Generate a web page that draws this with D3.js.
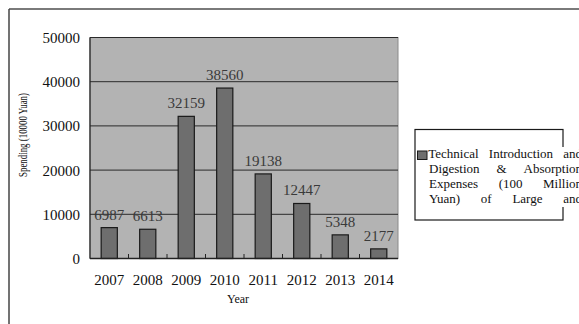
<!DOCTYPE html>
<html>
<head>
<meta charset="utf-8">
<script src="https://cdn.jsdelivr.net/npm/d3@7"></script>
<style>
  html, body { margin: 0; padding: 0; background: #fff; }
  svg { display: block; }
  text { font-family: "Liberation Serif", "Times New Roman", serif; }
</style>
</head>
<body>
<svg id="chart" width="579" height="324"></svg>
<script>
// Annual technical introduction and digestion/absorption spending
const years = ["2007", "2008", "2009", "2010", "2011", "2012", "2013", "2014"];
const spending = [6987, 6613, 32159, 38560, 19138, 12447, 5348, 2177];
const yTicks = [0, 10000, 20000, 30000, 40000, 50000];
const legendLines = [
  "Technical Introduction and",
  "Digestion & Absorption",
  "Expenses (100 Million",
  "Yuan) of Large and"
];
const yTitle = "Spending (10000 Yuan)";
const xTitle = "Year";

const svg = d3.select("#chart");
const W = 579, H = 324;
const plot = { left: 90, right: 398, top: 37.5, bottom: 258.5 };

// Outer frame (top and left edges)
svg.append("line").attr("x1", 9).attr("x2", W).attr("y1", 9).attr("y2", 9)
  .attr("stroke", "#7a7a7a").attr("stroke-width", 2);
svg.append("line").attr("x1", 9).attr("x2", 9).attr("y1", 9).attr("y2", H)
  .attr("stroke", "#444").attr("stroke-width", 1.5);

const x = d3.scaleBand().domain(years).range([plot.left, plot.right])
  .paddingInner(0.58).paddingOuter(0.29);
const y = d3.scaleLinear().domain([0, 50000]).range([plot.bottom, plot.top]);

// Plot background
svg.append("rect")
  .attr("x", plot.left).attr("y", plot.top)
  .attr("width", plot.right - plot.left).attr("height", plot.bottom - plot.top)
  .attr("fill", "#b3b3b3").attr("stroke", "#8a8a8a").attr("stroke-width", 1);

// Gridlines
svg.append("g").selectAll("line").data(yTicks.filter(t => t > 0)).join("line")
  .attr("x1", plot.left).attr("x2", plot.right)
  .attr("y1", d => y(d)).attr("y2", d => y(d))
  .attr("stroke", "#2a2a2a").attr("stroke-width", 1);

// Y tick labels
svg.append("g").selectAll("text").data(yTicks).join("text")
  .attr("x", 80).attr("y", d => y(d) + 5.5)
  .attr("text-anchor", "end").attr("font-size", 15).attr("fill", "#111")
  .text(d => d);

// Bars
svg.append("g").selectAll("rect").data(years).join("rect")
  .attr("x", (d) => x(d))
  .attr("y", (d, i) => y(spending[i]))
  .attr("width", x.bandwidth())
  .attr("height", (d, i) => y(0) - y(spending[i]))
  .attr("fill", "#6e6e6e").attr("stroke", "#1a1a1a").attr("stroke-width", 1.2);

// Value labels
svg.append("g").selectAll("text").data(years).join("text")
  .attr("x", d => x(d) + x.bandwidth() / 2)
  .attr("y", (d, i) => y(spending[i]) - 8)
  .attr("text-anchor", "middle").attr("font-size", 15).attr("fill", "#3a3a3a")
  .text((d, i) => spending[i]);

// Axis lines
svg.append("line").attr("x1", plot.left).attr("x2", plot.left)
  .attr("y1", plot.top).attr("y2", plot.bottom)
  .attr("stroke", "#222").attr("stroke-width", 1.2);
svg.append("line").attr("x1", plot.left).attr("x2", plot.right)
  .attr("y1", plot.bottom).attr("y2", plot.bottom)
  .attr("stroke", "#222").attr("stroke-width", 1.5);

// Category separator ticks (pointing inward)
const step = x.step();
svg.append("g").selectAll("line").data(years.slice(1)).join("line")
  .attr("x1", d => x(d) - step * x.paddingInner() / 2)
  .attr("x2", d => x(d) - step * x.paddingInner() / 2)
  .attr("y1", plot.bottom - 4.5).attr("y2", plot.bottom)
  .attr("stroke", "#222").attr("stroke-width", 1);

// X tick labels
svg.append("g").selectAll("text").data(years).join("text")
  .attr("x", d => x(d) + x.bandwidth() / 2)
  .attr("y", 285)
  .attr("text-anchor", "middle").attr("font-size", 15).attr("fill", "#111")
  .text(d => d);

// Axis titles
svg.append("text")
  .attr("x", 238).attr("y", 302.5)
  .attr("text-anchor", "middle").attr("font-size", 12).attr("fill", "#111")
  .text(xTitle);
svg.append("text")
  .attr("transform", "translate(26.5,135) rotate(-90)")
  .attr("text-anchor", "middle").attr("font-size", 12.5).attr("fill", "#111")
  .attr("textLength", 84).attr("lengthAdjust", "spacingAndGlyphs")
  .text(yTitle);

// Legend
const lg = svg.append("g");
lg.append("rect").attr("x", 415).attr("y", 129.5).attr("width", 148).attr("height", 90.5)
  .attr("fill", "#fff").attr("stroke", "#1a1a1a").attr("stroke-width", 1.2);
lg.append("rect").attr("x", 428).attr("y", 147).attr("width", 151).attr("height", 60)
  .attr("fill", "#fff");
lg.append("rect").attr("x", 417.5).attr("y", 151).attr("width", 9.5).attr("height", 8.5)
  .attr("fill", "#6e6e6e").attr("stroke", "#1a1a1a").attr("stroke-width", 1);

// Justified legend text lines (the block runs slightly past the right edge)
const textRight = 582;
legendLines.forEach((line, li) => {
  const words = line.split(" ");
  const x0 = li === 0 ? 428.3 : 429;
  const baseline = 158.3 + li * 15;
  const nodes = words.map(w => lg.append("text")
    .attr("y", baseline).attr("font-size", 13).attr("fill", "#111").text(w));
  const widths = nodes.map(n => n.node().getComputedTextLength());
  const total = d3.sum(widths);
  const gap = words.length > 1 ? (textRight - x0 - total) / (words.length - 1) : 0;
  let cx = x0;
  nodes.forEach((n, i) => { n.attr("x", cx); cx += widths[i] + gap; });
});
</script>
</body>
</html>
